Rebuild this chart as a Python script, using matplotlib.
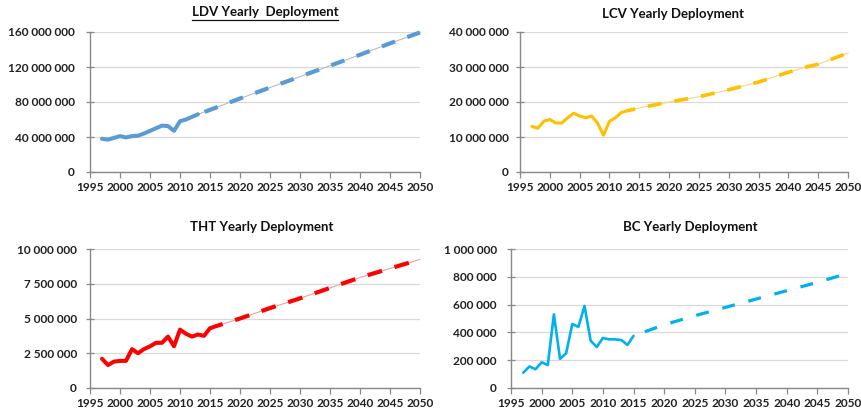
import matplotlib
matplotlib.use("Agg")
import matplotlib.pyplot as plt
from matplotlib.lines import Line2D
from matplotlib.ticker import FuncFormatter, MultipleLocator

plt.rcParams['font.family'] = ['Lato', 'DejaVu Sans']

# ---- data ----
hist_years_ldv = list(range(1997, 2014))
ldv_hist = [38e6, 37e6, 39e6, 41e6, 39.5e6, 41e6, 41.5e6, 44e6, 47e6, 50e6, 53e6,
            52.5e6, 47e6, 58e6, 60e6, 63e6, 66e6]
proj_years_ldv = [2013, 2015, 2020, 2025, 2030, 2035, 2040, 2045, 2050]
ldv_proj = [66e6, 71e6, 84e6, 96.5e6, 109e6, 121.5e6, 134e6, 147e6, 159.5e6]

hist_years_lcv = list(range(1997, 2014))
lcv_hist = [13e6, 12.5e6, 14.5e6, 15e6, 14e6, 14e6, 15.5e6, 16.8e6, 16e6, 15.5e6, 16e6,
            14e6, 10.5e6, 14.5e6, 15.5e6, 17e6, 17.5e6]
proj_years_lcv = [2013, 2015, 2020, 2025, 2030, 2035, 2040, 2043, 2045, 2050]
lcv_proj = [17.5e6, 18.3e6, 20e6, 21.5e6, 23.5e6, 25.7e6, 28.5e6, 30e6, 30.8e6, 34e6]

hist_years_tht = list(range(1997, 2017))
tht_hist = [2.1e6, 1.65e6, 1.9e6, 1.95e6, 1.95e6, 2.8e6, 2.5e6, 2.8e6, 3.0e6, 3.25e6,
            3.25e6, 3.7e6, 3.0e6, 4.2e6, 3.9e6, 3.7e6, 3.85e6, 3.75e6, 4.3e6, 4.45e6]
proj_years_tht = [2016, 2020, 2025, 2030, 2035, 2040, 2045, 2050]
tht_proj = [4.45e6, 5.0e6, 5.75e6, 6.45e6, 7.2e6, 7.95e6, 8.6e6, 9.25e6]

hist_years_bc = list(range(1997, 2016))
bc_hist = [110e3, 155e3, 135e3, 185e3, 165e3, 530e3, 210e3, 250e3, 460e3, 440e3,
           590e3, 340e3, 295e3, 360e3, 350e3, 350e3, 345e3, 310e3, 375e3]
proj_years_bc = [2015, 2020, 2025, 2030, 2035, 2040, 2045, 2050]
bc_proj = [375e3, 455e3, 520e3, 580e3, 640e3, 700e3, 760e3, 825e3]

titles = ["LDV Yearly  Deployment", "LCV Yearly Deployment",
          "THT Yearly Deployment", "BC Yearly Deployment"]
colors = ["#5B9BD5", "#FFC000", "#FF0000", "#00B0F0"]
thin_colors = ["#BBBBBB", "#F5D58A", "#F0A0A0", None]
ymax = [160e6, 40e6, 10e6, 1e6]
ystep = [40e6, 10e6, 2.5e6, 200e3]

series = [
    (hist_years_ldv, ldv_hist, proj_years_ldv, ldv_proj),
    (hist_years_lcv, lcv_hist, proj_years_lcv, lcv_proj),
    (hist_years_tht, tht_hist, proj_years_tht, tht_proj),
    (hist_years_bc, bc_hist, proj_years_bc, bc_proj),
]

W, H = 861, 416
fig = plt.figure(figsize=(W / 100, H / 100), dpi=100)
fig.patch.set_facecolor("white")

def fx(px):
    return px / W

def fy(py):
    return 1 - py / H

# axes pixel boxes: left, right, top, bottom
boxes = [(90, 420, 32, 172), (520, 848, 32, 172), (90, 420, 249, 388), (511, 848, 249, 388)]
title_pos = [(265, 12), (673, 14), (262, 227), (690, 227)]
hist_lw = [2.9, 2.2, 2.9, 1.9]
proj_lw = [3.0, 2.6, 3.0, 2.3]
dash_px = [14, 14, 15, 13]
gap_px = [13, 13, 13, 14]
dash_offset = [20, 6, 8, 15]
ylabel_pad = [8.0, 5.0, 6.5, 7.2]

def fmt(v, pos):
    return f"{int(round(v)):,}".replace(",", " ")

for i, (box, (hx, hy, px, py)) in enumerate(zip(boxes, series)):
    l, r, t, b = box
    ax = fig.add_axes([fx(l), fy(b), fx(r) - fx(l), fy(t) - fy(b)])
    ax.set_xlim(1995, 2050)
    ax.set_ylim(0, ymax[i])
    ax.xaxis.set_major_locator(MultipleLocator(5))
    ax.yaxis.set_major_locator(MultipleLocator(ystep[i]))
    ax.yaxis.set_major_formatter(FuncFormatter(fmt))
    ax.grid(axis="y", color="#D9D9D9", linewidth=0.9)
    ax.set_axisbelow(True)
    for s in ["top", "right"]:
        ax.spines[s].set_visible(False)
    for s in ["left", "bottom"]:
        ax.spines[s].set_color("#888888")
        ax.spines[s].set_linewidth(1.0)
    ax.tick_params(axis="x", length=4, width=0.9, color="#888888", direction="out",
                   labelsize=8.6, pad=3)
    ax.tick_params(axis="y", length=6, width=0.9, color="#888888", direction="inout",
                   labelsize=8.6, pad=ylabel_pad[i])
    for lab in ax.get_xticklabels() + ax.get_yticklabels():
        lab.set_fontweight("bold")
        lab.set_color("#222222")
    if thin_colors[i]:
        ax.plot(px, py, color=thin_colors[i], linewidth=0.8, zorder=2, clip_on=False)
    lw = proj_lw[i]
    px2pt = 0.72
    d = dash_px[i] * px2pt / lw
    g = gap_px[i] * px2pt / lw
    o = dash_offset[i] * px2pt / lw
    ax.plot(px, py, color=colors[i], linewidth=lw, linestyle=(o, (d, g)),
            zorder=3, clip_on=False, solid_capstyle="butt", dash_capstyle="butt")
    ax.plot(hx, hy, color=colors[i], linewidth=hist_lw[i], zorder=4,
            solid_joinstyle="round", solid_capstyle="round")
    tx, ty = title_pos[i]
    txt = fig.text(fx(tx), fy(ty), titles[i], ha="center", va="center",
                   fontsize=9.5, fontweight="bold", color="#111111")
    if i == 0:
        fig.canvas.draw()
        bb = txt.get_window_extent()
        yline = bb.y0 - 1.5
        fig.add_artist(Line2D([bb.x0 / W, bb.x1 / W], [yline / H, yline / H],
                              color="#111111", linewidth=0.9,
                              transform=fig.transFigure))

fig.savefig("out.png", dpi=100)
